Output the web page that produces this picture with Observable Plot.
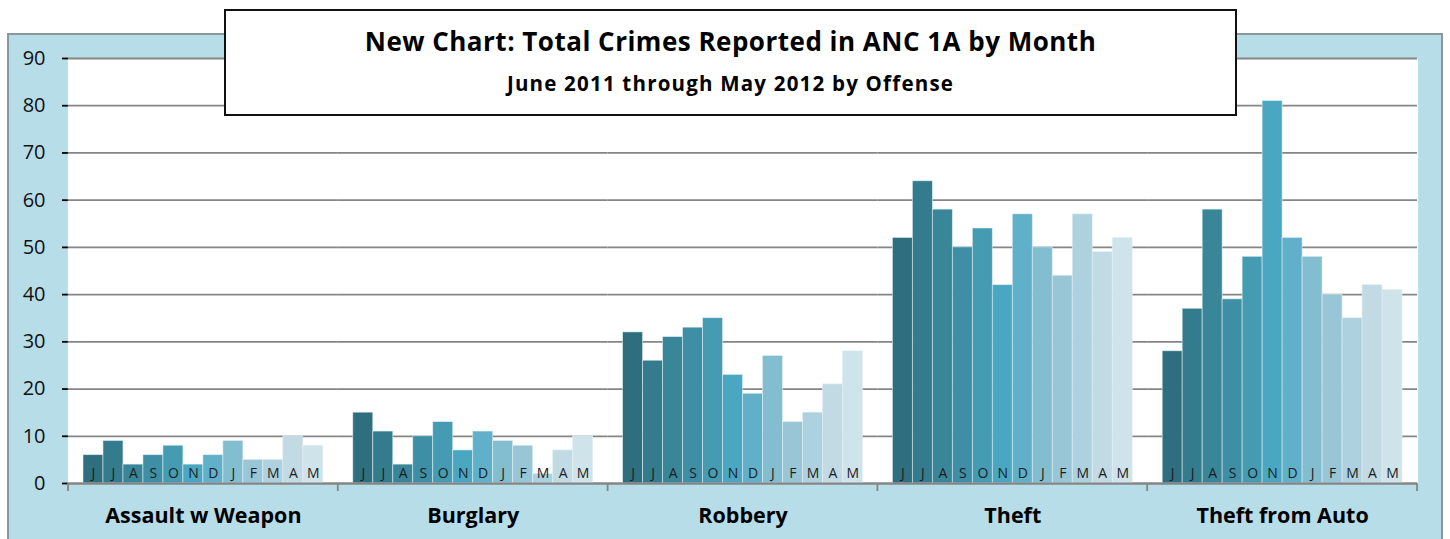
<!DOCTYPE html>
<html>
<head>
<meta charset="utf-8">
<script src="https://cdn.jsdelivr.net/npm/d3@7"></script>
<script src="https://cdn.jsdelivr.net/npm/@observablehq/plot@0.6"></script>
<style>
  html, body { margin: 0; padding: 0; background: #ffffff; }
  #wrap { position: relative; width: 1450px; height: 539px; overflow: hidden; font-family: "Open Sans", Lato, sans-serif; }
  #panel { position: absolute; left: 7px; top: 33px; width: 1436px; height: 530px; box-sizing: border-box;
           background: #B7DDE8; border: 2px solid #8c979b; }
  #chart { position: absolute; left: 0; top: 0; }
  #title { position: absolute; left: 224px; top: 9px; width: 1013px; height: 107px; box-sizing: border-box;
           background: #ffffff; border: 2px solid #111; color: #000; }
  #title .line { position: absolute; left: 0; right: 0; text-align: center; font-weight: 700; line-height: 1; white-space: nowrap; }
  #title .t1 { top: 16.6px; font-size: 26px; }
  #title .t2 { top: 61.5px; font-size: 20.5px; }
  #title span { display: inline-block; }
</style>
</head>
<body>
<div id="wrap">
  <div id="panel"></div>
  <div id="chart"></div>
  <div id="title">
    <div class="line t1"><span data-w="731">New Chart: Total Crimes Reported in ANC 1A by Month</span></div>
    <div class="line t2"><span data-w="446">June 2011 through May 2012 by Offense</span></div>
  </div>
</div>
<script>
// ---- Data ----
const offenses = ["Assault w Weapon", "Burglary", "Robbery", "Theft", "Theft from Auto"];
const months = ["Jun 2011", "Jul 2011", "Aug 2011", "Sep 2011", "Oct 2011", "Nov 2011",
                "Dec 2011", "Jan 2012", "Feb 2012", "Mar 2012", "Apr 2012", "May 2012"];
const monthLetters = ["J", "J", "A", "S", "O", "N", "D", "J", "F", "M", "A", "M"];
const assaultWWeapon = [6, 9, 4, 6, 8, 4, 6, 9, 5, 5, 10, 8];
const burglary       = [15, 11, 4, 10, 13, 7, 11, 9, 8, 2, 7, 10];
const robbery        = [32, 26, 31, 33, 35, 23, 19, 27, 13, 15, 21, 28];
const theft          = [52, 64, 58, 50, 54, 42, 57, 50, 44, 57, 49, 52];
const theftFromAuto  = [28, 37, 58, 39, 48, 81, 52, 48, 40, 35, 42, 41];
const yTicks = [0, 10, 20, 30, 40, 50, 60, 70, 80, 90];
const monthColors = ["#2E6E7E", "#337B8D", "#3A8699", "#3E8EA5", "#449BB2", "#4AA7C1",
                     "#5FB0C8", "#83BDD0", "#99C6D7", "#ADD1DF", "#C1DAE4", "#CFE3EA"];

const seriesByOffense = [assaultWWeapon, burglary, robbery, theft, theftFromAuto];
const data = offenses.flatMap((offense, i) =>
  seriesByOffense[i].map((value, j) => ({offense, month: months[j], letter: monthLetters[j], value})));

const chart = Plot.plot({
  width: 1450,
  height: 539,
  marginLeft: 68,
  marginRight: 33,
  marginTop: 58,
  marginBottom: 56,
  style: {background: "transparent", fontFamily: "'Open Sans', Lato, sans-serif", color: "#000"},
  facet: {data, x: "offense"},
  fx: {domain: offenses, padding: 0, round: false, label: null, tickSize: 0, tickPadding: 24},
  x: {domain: months, paddingInner: 0, paddingOuter: 0.75, round: false, axis: null},
  y: {domain: [0, 90], ticks: yTicks, tickSize: 6, tickPadding: 17, label: null, line: true},
  color: {domain: months, range: monthColors},
  marks: [
    Plot.frame({fill: "white", stroke: null, insetLeft: -0.6, insetRight: -0.6}),
    Plot.ruleY(yTicks, {stroke: "#858585", strokeWidth: 1.8}),
    Plot.barY(data, {x: "month", y: "value", fill: "month", stroke: "#e4f1f5", strokeWidth: 0.8, strokeOpacity: 0.7}),
    Plot.text(data, {x: "month", y: 0, text: "letter", dy: -9.5, fontSize: 14, fill: "#1c1c1c"}),
    Plot.ruleY([0], {stroke: "#858585", strokeWidth: 2})
  ]
});

document.getElementById("chart").appendChild(chart);

// style axis texts
const svg = d3.select(chart.tagName.toLowerCase() === "svg" ? chart : chart.querySelector("svg"));
svg.selectAll("[aria-label='y-axis tick label'] text, [aria-label='y-axis tick label']")
   .attr("font-size", 20).attr("fill", "#111");
svg.selectAll("[aria-label='fx-axis tick label'] text, [aria-label='fx-axis tick label']")
   .attr("font-size", 21.5).attr("font-weight", 700).attr("fill", "#000");
svg.selectAll("[aria-label='y-axis tick'], [aria-label='y-axis line'], [aria-label='y-axis']")
   .attr("stroke", "#858585").attr("stroke-width", 1.8);

// category boundary ticks below the baseline, from the fx scale
const fxScale = chart.scale("fx");
const yScale = chart.scale("y");
const y0 = yScale.apply(0);
const edges = offenses.map(o => fxScale.apply(o));
edges.push(edges[edges.length - 1] + fxScale.bandwidth);
svg.append("g").attr("aria-label", "category boundaries")
  .selectAll("line").data(edges).join("line")
  .attr("x1", d => d).attr("x2", d => d)
  .attr("y1", y0).attr("y2", y0 + 8)
  .attr("stroke", "#858585").attr("stroke-width", 1.8);

// fit title lines to the reference widths by letter-spacing
document.querySelectorAll("#title span[data-w]").forEach(el => {
  const target = +el.dataset.w;
  const w = el.getBoundingClientRect().width;
  const n = el.textContent.length;
  el.style.letterSpacing = ((target - w) / (n - 1)) + "px";
});
</script>
</body>
</html>
